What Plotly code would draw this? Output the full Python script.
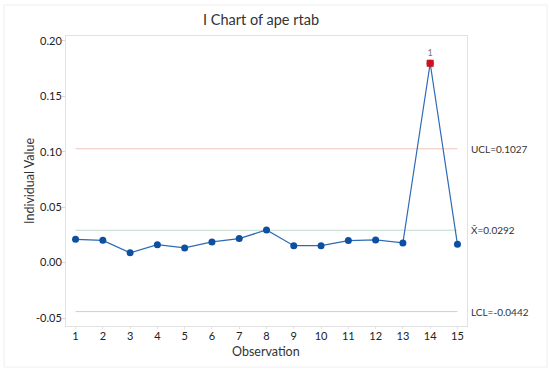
import plotly.graph_objects as go

observations = list(range(1, 16))
values = [0.0210, 0.0201, 0.0088, 0.0162, 0.0133, 0.0187, 0.0217, 0.0295,
          0.0153, 0.0153, 0.0199, 0.0205, 0.0178, 0.1799, 0.0165]
ucl = 0.1027
center = 0.0292
lcl = -0.0442
out_obs = [14]
out_vals = [0.1799]
y_ticks = [-0.05, 0.00, 0.05, 0.10, 0.15, 0.20]
y_tick_text = ["-0.05", "0.00", "0.05", "0.10", "0.15", "0.20"]

FONT = "Lato, Open Sans, sans-serif"

fig = go.Figure()

# control lines
for val, col in [(ucl, "#efc2ba"), (center, "#bfdccb"), (lcl, "#efc2ba")]:
    fig.add_trace(go.Scatter(x=[observations[0], observations[-1]], y=[val, val],
                             mode="lines", line=dict(color=col, width=1),
                             hoverinfo="skip", showlegend=False))

fig.add_trace(go.Scatter(x=observations, y=values, mode="lines+markers",
                         line=dict(color="#2f6ab5", width=1.2),
                         marker=dict(color="#0d4fa0", size=7, symbol="circle"),
                         showlegend=False))

fig.add_trace(go.Scatter(x=out_obs, y=out_vals, mode="markers+text",
                         marker=dict(color="#d0101a", size=7, symbol="square"),
                         text=["1"], textposition="top center",
                         textfont=dict(size=9, color="#777", family=FONT),
                         showlegend=False))

labels = [(ucl, "UCL=0.1027"), (center, "X\u0304=0.0292"), (lcl, "LCL=-0.0442")]
for val, txt in labels:
    fig.add_annotation(x=1, xref="paper", y=val, yref="y", text=txt,
                       xanchor="left", xshift=2, showarrow=False,
                       font=dict(size=10, color="#333", family=FONT))

# axis titles
fig.add_annotation(x=(29 - 66) / 401, xref="paper", y=(326 - 181) / 290, yref="paper",
                   text="Individual Value", textangle=-90, showarrow=False,
                   xanchor="center", yanchor="middle",
                   font=dict(size=12.5, color="#333", family=FONT))
fig.add_annotation(x=(266 - 66) / 401, xref="paper", y=(326 - 351) / 290, yref="paper",
                   text="Observation", showarrow=False,
                   xanchor="center", yanchor="middle",
                   font=dict(size=12.5, color="#333", family=FONT))

# faint outer border
fig.add_shape(type="rect", xref="paper", yref="paper",
              x0=(4 - 66) / 401, x1=(547 - 66) / 401,
              y0=(326 - 367) / 290, y1=(326 - 5) / 290,
              line=dict(color="#eeeeee", width=1))

fig.update_layout(
    width=550, height=371,
    margin=dict(l=66, r=83, t=36, b=45, autoexpand=False),
    paper_bgcolor="white", plot_bgcolor="white",
    font=dict(family=FONT, color="#333"),
    title=dict(text="I Chart of ape rtab", x=(261 - 66) / 401, xref="paper",
               xanchor="center", y=1 - 20 / 371, yanchor="middle",
               font=dict(size=14.5, color="#333", family=FONT)),
    xaxis=dict(range=[0.65, 15.35], tickmode="array", tickvals=observations,
               ticktext=[str(o) for o in observations],
               showgrid=False, zeroline=False, showline=True, mirror=True,
               linecolor="#e2e2e2", linewidth=1, ticks="outside", ticklen=2,
               tickcolor="#e2e2e2", ticklabelstandoff=-2,
               tickfont=dict(size=11, color="#222", family=FONT)),
    yaxis=dict(range=[-0.0572, 0.2045], tickmode="array", tickvals=y_ticks,
               ticktext=y_tick_text,
               showgrid=False, zeroline=False, showline=True, mirror=True,
               linecolor="#e2e2e2", linewidth=1, ticks="outside", ticklen=3,
               tickcolor="#d8d8d8", ticklabelstandoff=-2,
               tickfont=dict(size=11, color="#222", family=FONT)),
)

fig.write_html("out.html", config={"displayModeBar": False},
               post_script="document.body.style.margin='0';document.body.style.overflow='hidden';")
